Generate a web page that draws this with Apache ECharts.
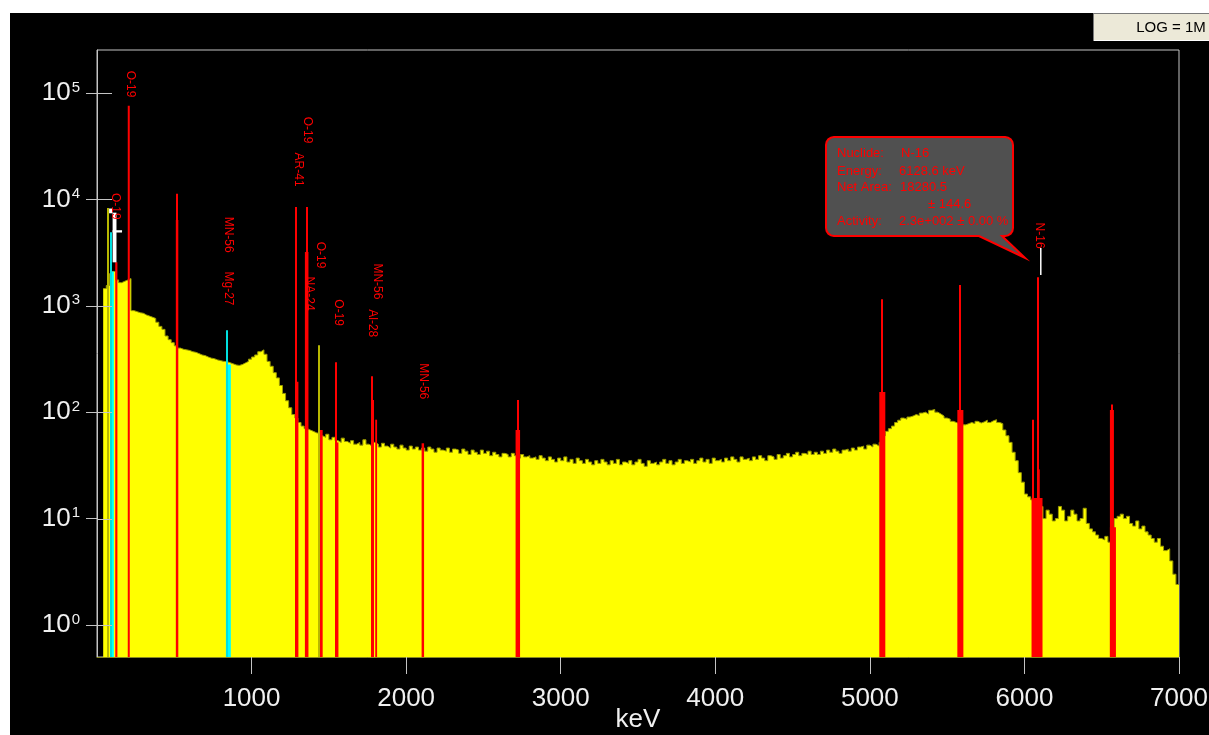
<!DOCTYPE html>
<html>
<head>
<meta charset="utf-8">
<script src="https://cdn.jsdelivr.net/npm/echarts@6/dist/echarts.min.js"></script>
<style>
  html, body { margin: 0; padding: 0; background: #fff; }
  #spectrum { position: absolute; left: 10px; top: 13px; width: 1199px; height: 722px; }
</style>
</head>
<body>
<div id="spectrum"></div>
<script>
// gamma spectrum, 20 keV channels starting at 40 keV
const binStart = 40
const binWidth = 20
const counts = [
  1450, 1550, 2000, 2100, 1750, 1650, 1700, 1750, 1800, 900,
  880, 860, 850, 820, 800, 780, 760, 700, 640, 600,
  520, 480, 450, 420, 400, 390, 385, 380, 370, 365,
  355, 345, 340, 330, 322, 318, 310, 305, 300, 298,
  292, 285, 278, 275, 280, 290, 300, 315, 330, 345,
  370, 385, 350, 300, 270, 235, 210, 178, 150, 128,
  110, 95, 88, 80, 74, 70, 68, 66, 64, 63,
  60, 58, 62, 55, 58, 54, 52, 57, 53, 51,
  54, 50, 52, 49, 55, 50, 48, 52, 50, 47,
  51, 48, 46, 50, 47, 45, 49, 46, 44, 48,
  45, 47, 44, 46, 43, 47, 45, 42, 46, 44,
  43, 46, 42, 45, 44, 41, 45, 43, 40, 44,
  42, 40, 44, 41, 43, 39, 42, 40, 38, 41,
  40, 38, 41, 39, 37, 40, 38, 39, 37, 38,
  36, 39, 37, 35, 38, 36, 34, 37, 35, 38,
  34, 36, 33, 37, 35, 33, 36, 34, 32, 35,
  33, 36, 34, 32, 35, 33, 36, 32, 34, 33,
  35, 32, 34, 36, 33, 31, 35, 33, 34, 32,
  34, 36, 33, 35, 32, 34, 36, 33, 35, 34,
  36, 33, 35, 37, 34, 36, 33, 37, 35, 36,
  34, 37, 35, 38, 36, 34, 38, 36, 37, 35,
  38, 36, 39, 37, 35, 39, 38, 36, 40, 37,
  39, 41, 38, 40, 42, 39, 41, 40, 43, 40,
  42, 40, 43, 41, 44, 42, 45, 43, 41, 44,
  45, 43, 46, 44, 47, 48, 45, 49, 47, 50,
  48, 52, 60, 66, 70, 74, 80, 84, 88, 86,
  90, 92, 95, 93, 98, 100, 96, 104, 106, 100,
  96, 92, 88, 86, 82, 80, 78, 80, 76, 78,
  80, 78, 82, 79, 81, 84, 80, 83, 85, 80,
  78, 68, 60, 52, 42, 35, 27, 22, 17, 16,
  15, 15, 14, 13, 10, 12, 11, 9.5, 10, 13,
  12, 9.5, 10.5, 12, 11, 9.5, 10, 12.5, 9, 8,
  7.5, 7, 6.5, 6.3, 6.8, 6, 7, 10, 10.5, 11,
  10, 10.5, 9, 8.5, 9.5, 8, 8.5, 7.5, 7, 6.5,
  6, 6.5, 5.5, 5, 5.2, 4, 3, 2.4
]

// peak regions: [keV from, keV to, top count]
const redRois = [
  [118, 132, 2570], [199, 212, 76000], [510, 526, 6400], [1284, 1303, 193],
  [1345, 1368, 3200], [1440, 1460, 68], [1543, 1562, 52], [1773, 1792, 130],
  [1800, 1812, 85], [2100, 2116, 51], [2708, 2737, 68], [5061, 5100, 155],
  [5566, 5605, 105], [6046, 6117, 15.6], [6082, 6099, 29], [6553, 6592, 8.3],
  [6553, 6579, 105]
]
const cyanRois = [[87, 109, 2100], [834, 866, 280]]

// peak maxima: [keV, count]
const redPeaks = [
  [518, 11300], [1290, 8500], [1356, 8500], [1549, 295], [1782, 218], [2721, 130],
  [5080, 1150], [5585, 1570], [6057, 85], [6090, 1850], [6566, 118]
]
const cyanPeaks = [[92, 4900], [843, 590]]
const otherPeaks = [[73, 8300], [1436, 425]]

// cursor marks: [keV from, keV to, count from, count to]
const cursorMarks = [[78, 101, 7400, 8200], [101, 126, 2560, 7500], [101, 162, 4880, 5130], [6101, 6107, 1950, 3490]]

// nuclide tags
const tagText = ['O-19', 'O-19', 'MN-56', 'Mg-27', 'AR-41', 'O-19', 'NA-24', 'O-19', 'O-19', 'Al-28', 'MN-56', 'MN-56', 'N-16']
const tagEnergy = [120, 214, 851, 852, 1300, 1361, 1371, 1444, 1558, 1778, 1815, 2109, 6095]
const tagCount = [11500, 162000, 6880, 2100, 27500, 59800, 1880, 4000, 1150, 927, 2500, 288, 6050]

const xTicks = [1000, 2000, 3000, 4000, 5000, 6000, 7000]
const yTicks = [1, 10, 100, 1000, 10000, 100000]

const Y_MIN = 0.5
const Y_MAX = 253400
const FONT = '"Liberation Sans", Arial, sans-serif'

const chart = echarts.init(document.getElementById('spectrum'))

const spectrum = counts.map((c, i) => [binStart + i * binWidth, c])
spectrum.push([7000, counts[counts.length - 1]])

function roiSeries(data, color) {
  return {
    type: 'custom',
    silent: true,
    z: 3,
    data: data,
    renderItem(params, api) {
      const a = api.coord([api.value(0), api.value(2)])
      const b = api.coord([api.value(1), Y_MIN])
      return {
        type: 'rect',
        shape: { x: a[0], y: a[1], width: Math.max(b[0] - a[0], 1.5), height: b[1] - a[1] },
        style: { fill: color }
      }
    }
  }
}

function peakSeries(data, color) {
  return {
    type: 'custom',
    silent: true,
    z: 4,
    data: data,
    renderItem(params, api) {
      const a = api.coord([api.value(0), api.value(1)])
      const b = api.coord([api.value(0), Y_MIN])
      return {
        type: 'rect',
        shape: { x: Math.round(a[0]) - 1, y: a[1], width: 2, height: b[1] - a[1] },
        style: { fill: color }
      }
    }
  }
}

// rounded callout outline with a tail pointing at the N-16 marker
function calloutPoints(x0, y0, x1, y1, r) {
  const pts = []
  const corner = (cx, cy, a0) => {
    for (let k = 0; k <= 4; k++) {
      const a = a0 + (k / 4) * Math.PI / 2
      pts.push([cx + r * Math.cos(a), cy + r * Math.sin(a)])
    }
  }
  corner(x0 + r, y0 + r, Math.PI)
  corner(x1 - r, y0 + r, -Math.PI / 2)
  corner(x1 - r, y1 - r, 0)
  pts.push([992, y1], [1015, 245], [969, y1])
  corner(x0 + r, y1 - r, Math.PI / 2)
  return pts
}

const annotation = [
  ['Nuclide:', 827, 140], ['N-16', 891, 140],
  ['Energy:', 827, 158], ['6128.6 keV', 889, 158],
  ['Net Area:', 827, 174], ['18280.5', 890, 174],
  ['± 144.6', 918, 191],
  ['Activity:', 827, 208], ['2.3e+002 ± 0.00 %', 889, 208]
]

const option = {
  backgroundColor: '#000',
  animation: false,
  grid: {
    left: 87,
    right: 30,
    top: 37,
    bottom: 78,
    containLabel: false,
    outerBoundsMode: 'none',
    show: true,
    borderColor: '#c4c4c4',
    borderWidth: 1,
    backgroundColor: 'transparent'
  },
  xAxis: {
    type: 'value',
    min: 0,
    max: 7000,
    interval: 1000,
    name: 'keV',
    nameLocation: 'middle',
    nameGap: 50,
    nameMoveOverlap: false,
    nameTextStyle: { color: '#f0f0f0', fontSize: 26, fontFamily: FONT },
    axisLine: { lineStyle: { color: '#8a8a20' } },
    axisTick: { customValues: xTicks, length: 17, lineStyle: { color: '#c4c4c4' } },
    axisLabel: {
      customValues: xTicks,
      margin: 29,
      color: '#f0f0f0',
      fontSize: 26,
      fontFamily: FONT,
      formatter: v => String(v)
    },
    splitLine: { show: false }
  },
  yAxis: {
    type: 'log',
    logBase: 10,
    min: Y_MIN,
    max: Y_MAX,
    axisLine: { show: true, lineStyle: { color: '#c4c4c4' } },
    axisTick: { customValues: yTicks, length: 11, lineStyle: { color: '#c4c4c4' } },
    axisLabel: {
      customValues: yTicks,
      margin: 17,
      formatter: v => '{b|10}{s|' + Math.round(Math.log10(v)) + '}',
      rich: {
        b: { color: '#f0f0f0', fontSize: 26, fontFamily: FONT, lineHeight: 26 },
        s: { color: '#f0f0f0', fontSize: 15, fontFamily: FONT, lineHeight: 15, verticalAlign: 'top', padding: [0, 0, 0, 1] }
      }
    },
    splitLine: { show: false }
  },
  series: [
    {
      type: 'line',
      data: spectrum,
      step: 'end',
      symbol: 'none',
      silent: true,
      z: 2,
      lineStyle: { color: '#9a9a00', width: 1 },
      areaStyle: { color: '#ffff00', opacity: 1, origin: 'start' }
    },
    roiSeries(redRois, '#ff0000'),
    roiSeries(cyanRois, '#00ffff'),
    peakSeries(redPeaks, '#ff0000'),
    peakSeries(cyanPeaks, '#00e0e0'),
    peakSeries(otherPeaks, '#b8b800'),
    {
      type: 'custom',
      silent: true,
      z: 5,
      data: cursorMarks,
      renderItem(params, api) {
        const a = api.coord([api.value(0), api.value(3)])
        const b = api.coord([api.value(1), api.value(2)])
        return {
          type: 'rect',
          shape: { x: a[0], y: a[1], width: Math.max(b[0] - a[0], 1.5), height: b[1] - a[1] },
          style: { fill: '#ffffff' }
        }
      }
    },
    {
      // inner half of the y ticks
      type: 'custom',
      silent: true,
      z: 5,
      data: yTicks.map(v => [0, v]),
      renderItem(params, api) {
        const p = api.coord([api.value(0), api.value(1)])
        const y = Math.round(p[1]) + 0.5
        return {
          type: 'line',
          shape: { x1: p[0], y1: y, x2: p[0] + 15, y2: y },
          style: { stroke: '#c4c4c4', lineWidth: 1 }
        }
      }
    },
    {
      type: 'custom',
      silent: true,
      z: 6,
      data: tagEnergy.map((e, i) => [e, tagCount[i]]),
      renderItem(params, api) {
        const p = api.coord([api.value(0), api.value(1)])
        return {
          type: 'text',
          x: p[0],
          y: p[1],
          rotation: -Math.PI / 2,
          style: {
            text: tagText[params.dataIndex],
            fill: '#ff0000',
            font: '12px ' + FONT,
            align: 'left',
            verticalAlign: 'middle'
          }
        }
      }
    }
  ],
  graphic: [
    {
      type: 'polygon',
      z: 100,
      shape: { points: calloutPoints(816, 124, 1003, 223, 8) },
      style: { fill: '#505050', stroke: '#ff0000', lineWidth: 2 }
    },
    ...annotation.map(t => ({
      type: 'text',
      z: 101,
      x: t[1],
      y: t[2],
      style: { text: t[0], fill: '#ff0000', font: '13px ' + FONT, verticalAlign: 'middle' }
    })),
    {
      type: 'group',
      x: 1083,
      y: 0,
      z: 100,
      children: [
        { type: 'rect', shape: { x: 0, y: 0, width: 116, height: 28 }, style: { fill: '#ece9d8' } },
        { type: 'line', shape: { x1: 0.5, y1: 0, x2: 0.5, y2: 28 }, style: { stroke: '#7a7a7a', lineWidth: 1 } },
        { type: 'line', shape: { x1: 0, y1: 0.5, x2: 116, y2: 0.5 }, style: { stroke: '#7a7a7a', lineWidth: 1 } },
        { type: 'line', shape: { x1: 1, y1: 27.5, x2: 116, y2: 27.5 }, style: { stroke: '#ffffff', lineWidth: 1 } },
        { type: 'text', x: 78, y: 15, style: { text: 'LOG = 1M', fill: '#000', font: '15px ' + FONT, align: 'center', verticalAlign: 'middle' } }
      ]
    }
  ]
}

chart.setOption(option)
</script>
</body>
</html>
